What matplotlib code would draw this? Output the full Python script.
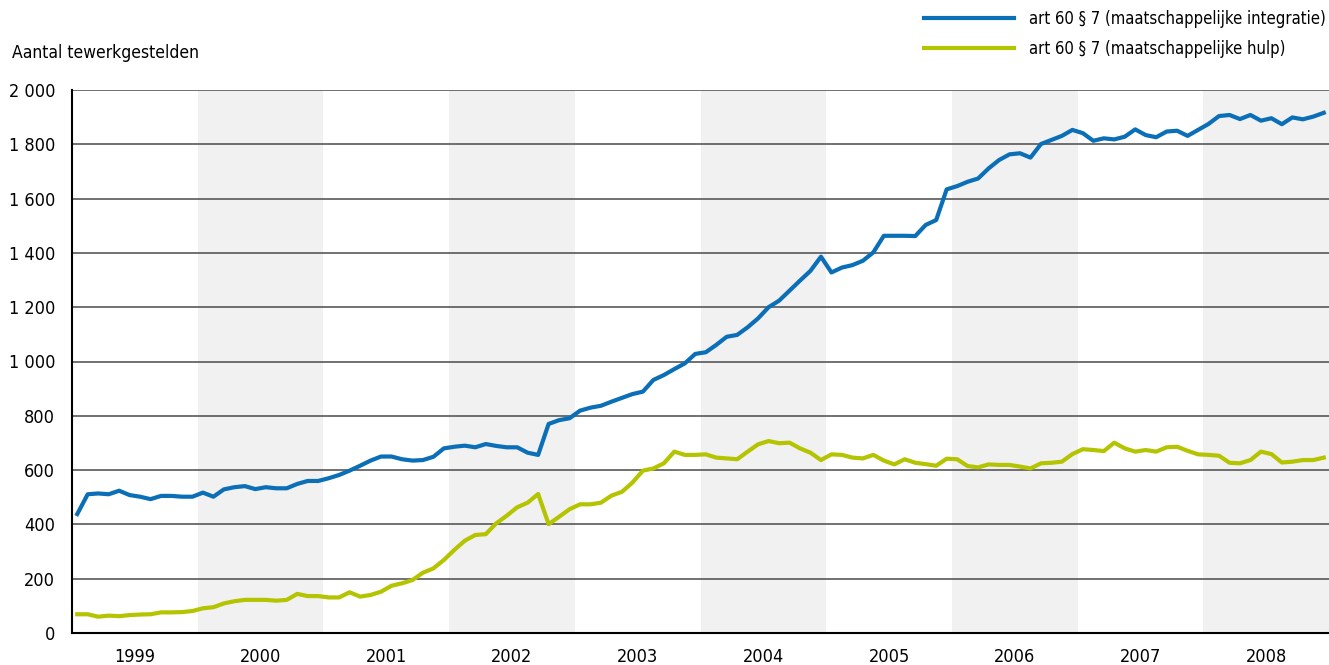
import matplotlib.pyplot as plt
from matplotlib import font_manager as fm

# smal lettertype zoeken, anders Liberation Sans
fonts = fm.fontManager.ttflist
if any(f.name == 'Liberation Sans Narrow' for f in fonts):
    plt.rcParams['font.family'] = ['Liberation Sans Narrow', 'DejaVu Sans']
elif any(f.name == 'DejaVu Sans' and str(f.stretch) == 'condensed' for f in fonts):
    plt.rcParams['font.family'] = ['DejaVu Sans']
    plt.rcParams['font.stretch'] = 'condensed'
else:
    plt.rcParams['font.family'] = ['Liberation Sans', 'DejaVu Sans']

years = [1999, 2000, 2001, 2002, 2003, 2004, 2005, 2006, 2007, 2008]

# maandelijkse reeksen, jan 1999 - dec 2008
integratie = [
    438, 511, 514, 511, 524, 508, 502, 493, 505, 505, 502, 502,      # 1999
    517, 502, 529, 537, 541, 530, 537, 533, 533, 549, 560, 560,      # 2000
    570, 582, 598, 616, 635, 650, 650, 640, 635, 637, 649, 680,      # 2001
    686, 690, 684, 696, 689, 684, 684, 664, 656, 770, 784, 791,      # 2002
    819, 830, 837, 852, 866, 880, 889, 932, 950, 972, 993, 1028,     # 2003
    1034, 1061, 1091, 1098, 1126, 1159, 1200, 1224, 1261, 1298, 1334, 1386,  # 2004
    1328, 1346, 1355, 1371, 1402, 1463, 1463, 1463, 1462, 1503, 1521, 1634,  # 2005
    1646, 1662, 1674, 1711, 1742, 1763, 1767, 1751, 1801, 1816, 1831, 1853,  # 2006
    1841, 1813, 1822, 1818, 1828, 1855, 1834, 1826, 1847, 1850, 1831, 1853,  # 2007
    1875, 1904, 1908, 1893, 1908, 1887, 1896, 1874, 1899, 1892, 1902, 1916,  # 2008
]

hulp = [
    69, 69, 60, 64, 62, 66, 68, 69, 76, 76, 77, 81,                  # 1999
    91, 95, 109, 117, 122, 122, 122, 119, 122, 144, 136, 136,        # 2000
    131, 131, 150, 134, 140, 152, 174, 183, 195, 222, 238, 269,      # 2001
    306, 340, 361, 364, 404, 432, 463, 480, 512, 401, 428, 456,      # 2002
    474, 474, 480, 506, 520, 554, 598, 606, 625, 668, 656, 656,      # 2003
    658, 646, 643, 640, 668, 695, 707, 699, 701, 680, 664, 637,      # 2004
    658, 656, 646, 643, 656, 635, 621, 640, 627, 622, 616, 642,      # 2005
    640, 615, 610, 621, 619, 619, 613, 606, 625, 627, 631, 659,      # 2006
    677, 674, 670, 701, 680, 668, 674, 668, 684, 686, 671, 658,      # 2007
    656, 653, 627, 625, 637, 668, 659, 628, 631, 637, 637, 646,      # 2008
]

months = [years[0] + (i + 0.5) / 12 for i in range(len(integratie))]

fig = plt.figure(figsize=(13.29, 6.65), dpi=100)
ax = fig.add_axes([72 / 1329, 32 / 665, 1 - 72 / 1329, (633 - 90) / 665])

# grijze banden voor de even jaren
for y in years:
    if y % 2 == 0:
        ax.axvspan(y, y + 1, color='#f1f1f1', zorder=0, lw=0)

for v in range(200, 2001, 200):
    ax.axhline(v, color='#4a4a4a', lw=1.1, zorder=1)

ax.plot(months, integratie, color='#0a6fb7', lw=3, zorder=3,
        label='art 60 § 7 (maatschappelijke integratie)')
ax.plot(months, hulp, color='#b4c400', lw=3, zorder=3,
        label='art 60 § 7 (maatschappelijke hulp)')

ax.set_xlim(years[0], years[-1] + 1)
ax.set_ylim(0, 2000)
ax.set_xticks([y + 0.5 for y in years])
ax.set_xticklabels([str(y) for y in years])
ax.set_yticks(range(0, 2001, 200))
ax.set_yticklabels([f"{v:,}".replace(",", " ") for v in range(0, 2001, 200)])
ax.tick_params(axis='both', length=0, labelsize=13)
ax.tick_params(axis='x', pad=11)
ax.tick_params(axis='y', pad=12)

for s in ['top', 'right']:
    ax.spines[s].set_visible(False)
ax.spines['left'].set_color('black')
ax.spines['bottom'].set_color('black')
ax.spines['left'].set_linewidth(1.5)
ax.spines['bottom'].set_linewidth(1.5)

fig.text(12 / 1329, 1 - 53 / 665, 'Aantal tewerkgestelden', fontsize=12.5,
         va='center', ha='left')

fig.legend(loc='upper right', bbox_to_anchor=(1326 / 1329, 1 - 10 / 665),
           frameon=False, fontsize=12, handlelength=5.4, handletextpad=0.9,
           borderpad=0, borderaxespad=0, labelspacing=0.7)

plt.savefig('out.png', dpi=100)
